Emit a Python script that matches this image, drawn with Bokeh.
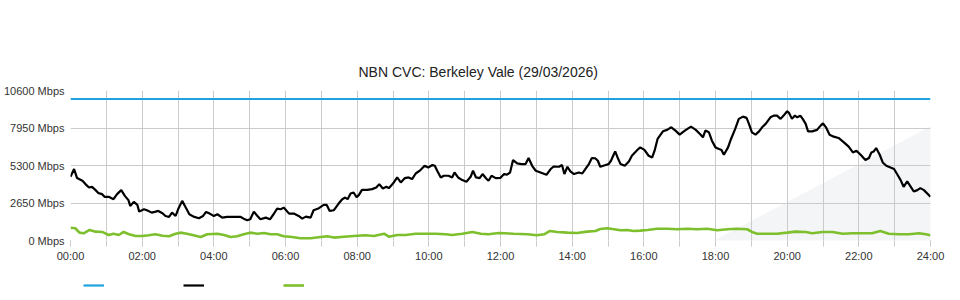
from bokeh.plotting import figure
from bokeh.layouts import column
from bokeh.models import FixedTicker, Legend, LegendItem, PolyAnnotation, Range1d
from bokeh.embed import file_html
from bokeh.resources import INLINE
from bokeh.core.properties import value

TITLE = "NBN CVC: Berkeley Vale (29/03/2026)"

y_ticks = [0, 2650, 5300, 7950, 10600]
y_tick_labels = ["0 Mbps", "2650 Mbps", "5300 Mbps", "7950 Mbps", "10600 Mbps"]
x_ticks = [0, 2, 4, 6, 8, 10, 12, 14, 16, 18, 20, 22, 24]
x_tick_labels = ["00:00", "02:00", "04:00", "06:00", "08:00", "10:00", "12:00",
                 "14:00", "16:00", "18:00", "20:00", "22:00", "24:00"]

capacity_times = ["00:00", "24:00"]
capacity_values = [10000, 10000]

download_times = [
    "00:00", "00:06", "00:11", "00:20", "00:25", "00:31", "00:36", "00:42", "00:47", "00:53",
    "00:57", "01:04", "01:12", "01:18", "01:25", "01:31", "01:37", "01:40", "01:46", "01:52",
    "01:55", "02:03", "02:08", "02:16", "02:21", "02:27", "02:34", "02:39", "02:45", "02:50",
    "02:56", "03:01", "03:07", "03:13", "03:19", "03:26", "03:35", "03:42", "03:47", "03:53",
    "04:00", "04:06", "04:14", "04:22", "04:33", "04:45", "04:50", "04:56", "05:01", "05:07",
    "05:13", "05:18", "05:27", "05:34", "05:40", "05:46", "05:52", "05:57", "06:06", "06:14",
    "06:22", "06:28", "06:34", "06:42", "06:47", "06:56", "07:04", "07:09", "07:14", "07:21",
    "07:29", "07:35", "07:40", "07:44", "07:49", "07:54", "07:59", "08:03", "08:08", "08:17",
    "08:25", "08:32", "08:37", "08:43", "08:49", "08:53", "09:00", "09:07", "09:13", "09:20",
    "09:26", "09:32", "09:38", "09:46", "09:53", "09:59", "10:06", "10:10", "10:14", "10:20",
    "10:25", "10:33", "10:39", "10:43", "10:49", "10:56", "11:03", "11:10", "11:14", "11:19",
    "11:25", "11:30", "11:36", "11:40", "11:45", "11:52", "12:00", "12:06", "12:11", "12:16",
    "12:21", "12:28", "12:35", "12:42", "12:47", "12:53", "12:59", "13:07", "13:17", "13:24",
    "13:29", "13:38", "13:43", "13:47", "13:52", "13:57", "14:03", "14:11", "14:17", "14:22",
    "14:28", "14:33", "14:39", "14:43", "14:47", "14:56", "15:01", "15:05", "15:10", "15:12",
    "15:16", "15:21", "15:28", "15:35", "15:40", "15:49", "15:54", "16:01", "16:08", "16:14",
    "16:18", "16:23", "16:32", "16:39", "16:46", "16:53", "17:00", "17:07", "17:13", "17:19",
    "17:27", "17:34", "17:39", "17:43", "17:49", "17:54", "18:00", "18:06", "18:10", "18:14",
    "18:21", "18:26", "18:33", "18:39", "18:46", "18:52", "18:56", "19:01", "19:07", "19:13",
    "19:18", "19:24", "19:32", "19:38", "19:43", "19:49", "19:54", "20:00", "20:03", "20:08",
    "20:13", "20:17", "20:22", "20:26", "20:31", "20:35", "20:42", "20:50", "20:56", "21:00",
    "21:05", "21:11", "21:18", "21:26", "21:35", "21:43", "21:50", "21:56", "22:03", "22:11",
    "22:17", "22:21", "22:25", "22:29", "22:35", "22:40", "22:46", "22:53", "22:59", "23:04",
    "23:10", "23:15", "23:21", "23:27", "23:32", "23:38", "23:43", "23:49", "24:00",
]
download_values = [
    4500, 5050, 4410, 4220, 3985, 3745, 3790, 3560, 3345, 3275,
    3085, 3085, 2920, 3275, 3560, 3155, 2850, 2445, 2730, 2515,
    2040, 2210, 2140, 1970, 2020, 2090, 1930, 1735, 1665, 1970,
    1735, 2285, 2800, 2325, 1855, 1685, 1575, 1735, 2020, 1900,
    1735, 1855, 1615, 1665, 1665, 1665, 1545, 1430, 1500, 2040,
    1735, 1500, 1615, 1500, 1855, 2255, 2210, 2325, 1900, 1900,
    1735, 1545, 1685, 1615, 2140, 2285, 2515, 2515, 2090, 2140,
    2610, 2920, 3035, 2920, 3320, 3390, 3060, 3225, 3580, 3580,
    3630, 3745, 3985, 3675, 3795, 3700, 4025, 4455, 4100, 4410,
    4455, 4340, 4735, 4975, 5280, 5160, 5330, 5280, 4930, 4455,
    4575, 4575, 4455, 4805, 4455, 4270, 4150, 4500, 4930, 4455,
    4410, 4695, 4380, 4220, 4575, 4410, 4430, 4695, 4660, 4805,
    5685, 5445, 5400, 5400, 5830, 5280, 4930, 4805, 4645, 5050,
    5230, 5210, 5330, 4695, 5210, 4880, 4695, 4805, 4735, 5050,
    5400, 5830, 5800, 5635, 5210, 5330, 5400, 5635, 6110, 6295,
    5870, 5400, 5280, 5590, 5990, 6395, 6580, 6400, 5990, 5870,
    6346, 7175, 7715, 7815, 8000, 7765, 7480, 7715, 7885, 8045,
    7815, 7530, 7290, 7765, 7645, 7055, 6580, 6465, 6395, 6060,
    6580, 7175, 7885, 8595, 8755, 8665, 8240, 7645, 7480, 7715,
    8000, 8240, 8705, 8825, 8825, 8595, 8825, 9130, 9020, 8595,
    8825, 8705, 8825, 8595, 8240, 7715, 7715, 7815, 8120, 8280,
    8000, 7480, 7340, 7245, 6935, 6630, 6225, 6345, 6060, 5685,
    5830, 6225, 6295, 6535, 6060, 5515, 5280, 5160, 5050, 4695,
    4270, 3795, 4170, 3795, 3460, 3560, 3700, 3560, 3085,
]

upload_times = [
    "00:00", "00:08", "00:15", "00:22", "00:32", "00:42", "00:53", "01:04", "01:12", "01:21",
    "01:29", "01:38", "01:49", "02:00", "02:11", "02:22", "02:34", "02:45", "02:56", "03:04",
    "03:15", "03:26", "03:38", "03:49", "04:06", "04:17", "04:28", "04:39", "04:50", "05:01",
    "05:13", "05:24", "05:35", "05:46", "05:57", "06:11", "06:25", "06:42", "06:59", "07:10",
    "07:21", "07:38", "07:54", "08:14", "08:28", "08:45", "08:53", "09:07", "09:21", "09:38",
    "09:54", "10:11", "10:28", "10:39", "10:56", "11:13", "11:27", "11:40", "11:57", "12:22",
    "12:45", "13:01", "13:13", "13:23", "13:35", "13:52", "14:08", "14:25", "14:39", "14:47",
    "14:59", "15:10", "15:21", "15:32", "15:43", "15:54", "16:06", "16:22", "16:39", "16:56",
    "17:13", "17:29", "17:46", "18:03", "18:20", "18:36", "18:53", "19:01", "19:10", "19:27",
    "19:43", "20:00", "20:14", "20:31", "20:42", "20:59", "21:16", "21:33", "21:50", "22:06",
    "22:22", "22:36", "22:50", "23:07", "23:24", "23:41", "23:52", "24:00",
]
upload_values = [
    905, 865, 555, 510, 745, 625, 605, 390, 480, 390,
    605, 440, 320, 320, 370, 440, 340, 300, 480, 555,
    480, 370, 250, 440, 480, 390, 250, 300, 440, 555,
    480, 530, 440, 440, 300, 250, 155, 155, 250, 300,
    205, 270, 320, 370, 320, 480, 270, 390, 390, 480,
    480, 480, 440, 390, 480, 605, 480, 440, 530, 480,
    440, 370, 440, 675, 605, 555, 530, 625, 675, 815,
    865, 795, 725, 745, 675, 700, 745, 835, 835, 795,
    835, 795, 835, 725, 795, 835, 795, 605, 480, 480,
    480, 555, 625, 605, 510, 605, 605, 480, 510, 510,
    510, 675, 480, 440, 440, 510, 440, 370,
]


def to_hours(times):
    out = []
    for t in times:
        h, m = t.split(":")
        out.append(int(h) + int(m) / 60.0)
    return out


FONT = "Liberation Sans"
GRID = "#cbcbcb"
C_CAP, C_DOWN, C_UP = "#1ea3de", "#000000", "#7dbf2c"
W_CAP, W_DOWN, W_UP = 2.2, 2.2, 2.6

# ---------------- main chart ----------------
p = figure(width=960, height=270, x_range=(0, 24), y_range=(0, 10600),
           output_backend="svg", toolbar_location=None,
           min_border_left=70, min_border_right=30, min_border_top=90,
           min_border_bottom=30, background_fill_color=None,
           border_fill_color="white")
p.outline_line_color = None

p.title.text = TITLE
p.title.align = "left"
p.title.offset = 288
p.title.standoff = 22
p.title.text_font = FONT
p.title.text_font_size = "14px"
p.title.text_font_style = "normal"
p.title.text_color = "#222222"

# faint decorative background shape (screen px relative to the frame's bottom-left)
p.add_layout(PolyAnnotation(xs=[530, 890, 890], ys=[-60, 130, -60],
                            xs_units="screen", ys_units="screen",
                            fill_color="#f4f5f7", fill_alpha=1, line_color=None,
                            level="image"))

p.line(to_hours(capacity_times), capacity_values, line_color=C_CAP, line_width=W_CAP)
p.line(to_hours(download_times), download_values, line_color=C_DOWN, line_width=W_DOWN)
p.line(to_hours(upload_times), upload_values, line_color=C_UP, line_width=W_UP)

p.xaxis.ticker = FixedTicker(ticks=x_ticks, minor_ticks=list(range(25)))
p.xaxis.major_label_overrides = {t: l for t, l in zip(x_ticks, x_tick_labels)}
p.yaxis.ticker = FixedTicker(ticks=y_ticks)
p.yaxis.major_label_overrides = {t: l for t, l in zip(y_ticks, y_tick_labels)}

p.xgrid.ticker = FixedTicker(ticks=list(range(25)))
p.ygrid.ticker = FixedTicker(ticks=y_ticks)
for g in (p.xgrid, p.ygrid):
    g.grid_line_color = GRID
    g.grid_line_width = 1

for ax in (p.xaxis, p.yaxis):
    ax.axis_line_color = None
    ax.major_label_text_font = FONT
    ax.major_label_text_font_size = "11px"
    ax.major_label_text_color = "#333333"
p.xaxis.major_tick_line_color = GRID
p.xaxis.minor_tick_line_color = GRID
p.xaxis.major_tick_in = 0
p.xaxis.major_tick_out = 6
p.xaxis.minor_tick_in = 0
p.xaxis.minor_tick_out = 6
p.xaxis.major_label_standoff = 3
p.yaxis.major_tick_line_color = None
p.yaxis.minor_tick_line_color = None
p.yaxis.major_tick_in = 0
p.yaxis.major_tick_out = 0
p.yaxis.minor_tick_in = 0
p.yaxis.minor_tick_out = 0
p.yaxis.major_label_standoff = 6

# ---------------- legend strip (series drawn out of view, only the legend shows) ----
lg = figure(width=960, height=30, x_range=Range1d(0, 24), y_range=Range1d(-2, -1),
            output_backend="svg", toolbar_location=None,
            min_border_left=44, min_border_right=0, min_border_top=0,
            min_border_bottom=0, background_fill_color="white",
            border_fill_color="white")
lg.outline_line_color = None
lg.axis.visible = False
lg.grid.visible = False
l_cap = lg.line(to_hours(capacity_times), capacity_values, line_color=C_CAP, line_width=W_CAP)
l_down = lg.line(to_hours(download_times), download_values, line_color=C_DOWN, line_width=W_DOWN)
l_up = lg.line(to_hours(upload_times), upload_values, line_color=C_UP, line_width=W_UP)

legend = Legend(items=[LegendItem(label=value(" "), renderers=[l_cap]),
                       LegendItem(label=value(" "), renderers=[l_down]),
                       LegendItem(label=value(" "), renderers=[l_up])],
                orientation="horizontal", location="top_left",
                label_text_font_size="4px",
                glyph_width=21, glyph_height=4, label_width=79, label_height=4,
                label_standoff=0, spacing=0, padding=0, margin=13,
                border_line_color=None, background_fill_alpha=0)
lg.add_layout(legend)

page = column(p, lg, spacing=0)
open("out.html", "w").write(file_html(page, INLINE))
